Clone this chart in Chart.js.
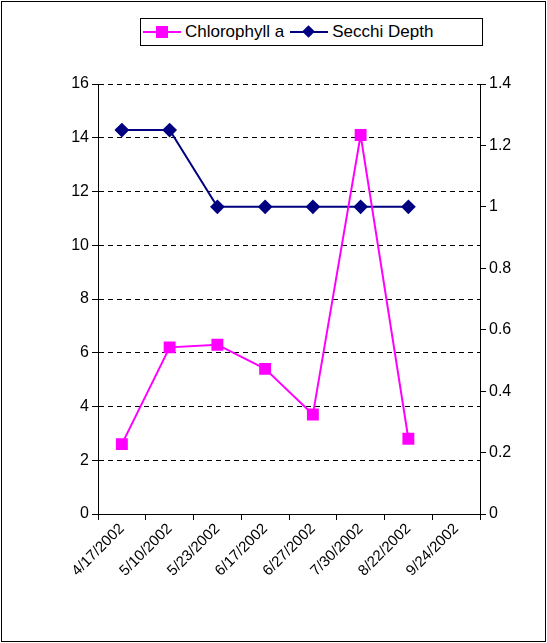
<!DOCTYPE html>
<html>
<head>
<meta charset="utf-8">
<script src="https://cdn.jsdelivr.net/npm/chart.js@4"></script>
<style>
  body { margin: 0; background: #fff; font-family: "Liberation Sans", Arial, sans-serif; }
  #wrap { position: relative; width: 547px; height: 643px; }
  #frame { position: absolute; left: 1px; top: 1px; width: 543px; height: 639px; border: 1px solid #000; pointer-events: none; }
  #legend { position: absolute; left: 140px; top: 18px; width: 341px; height: 26px; border: 1px solid #000; background: #fff;
            display: flex; align-items: center; font-size: 17px; }
  .item { display: flex; align-items: center; margin-left: 2px; margin-right: 4px; }
  .sym { position: relative; width: 38px; height: 14px; margin-right: 4px; }
  .sym .ln { position: absolute; left: 0; right: 0; top: 6px; height: 2px; }
  .sym .sq { position: absolute; left: 13px; top: 1px; width: 12px; height: 12px; background: #ff00ff; }
  .sym .dm { position: absolute; left: 14px; top: 2px; width: 9px; height: 9px; background: #000080; transform: rotate(45deg); }
</style>
</head>
<body>
<div id="wrap">
  <canvas id="c" width="547" height="643"></canvas>
  <div id="frame"></div>
  <div id="legend">
    <div class="item"><div class="sym"><div class="ln" style="background:#ff00ff"></div><div class="sq"></div></div>Chlorophyll a</div>
    <div class="item"><div class="sym"><div class="ln" style="background:#000080"></div><div class="dm"></div></div>Secchi Depth</div>
  </div>
</div>
<script>
// dados
const datas = ['4/17/2002', '5/10/2002', '5/23/2002', '6/17/2002', '6/27/2002', '7/30/2002', '8/22/2002', '9/24/2002'];
const clorofila = [2.6, 6.2, 6.3, 5.4, 3.7, 14.1, 2.8, null];
const secchi = [1.25, 1.25, 1, 1, 1, 1, 1, null];

const fonte = { family: '"Liberation Sans", Arial, sans-serif', size: 16 };

new Chart(document.getElementById('c'), {
  type: 'line',
  data: {
    labels: datas,
    datasets: [
      { label: 'Chlorophyll a', data: clorofila, yAxisID: 'y', borderColor: '#ff00ff', backgroundColor: '#ff00ff',
        borderWidth: 2, pointStyle: 'rect', pointRadius: 7, pointHoverRadius: 7, tension: 0 },
      { label: 'Secchi Depth', data: secchi, yAxisID: 'y1', borderColor: '#000080', backgroundColor: '#000080',
        borderWidth: 2, pointStyle: 'rectRot', pointRadius: 6, pointHoverRadius: 6, tension: 0 },
    ],
  },
  options: {
    responsive: false,
    animation: false,
    layout: { padding: { top: 84, left: 0, right: 0, bottom: 0 } },
    plugins: { legend: { display: false }, tooltip: { enabled: false } },
    scales: {
      x: {
        offset: true,
        grid: { offset: true, drawOnChartArea: false, color: '#000', tickLength: 6 },
        border: { color: '#000' },
        ticks: { color: '#000', font: { ...fonte, size: 15 }, maxRotation: 45, minRotation: 45, autoSkip: false, padding: 0 },
        afterFit: (s) => { s.height = 129; },
      },
      y: {
        position: 'left', min: 0, max: 16,
        grid: { color: '#000', tickLength: 6 },
        border: { color: '#000', dash: [5, 4] },
        ticks: { stepSize: 2, color: '#000', font: fonte },
        afterFit: (s) => { s.width = 98; },
      },
      y1: {
        position: 'right', min: 0, max: 1.4,
        grid: { drawOnChartArea: false, color: '#000', tickLength: 6 },
        border: { color: '#000' },
        ticks: { stepSize: 0.2, color: '#000', font: fonte, callback: (v) => Math.round(v * 10) / 10 },
        afterFit: (s) => { s.width = 67; },
      },
    },
  },
});
</script>
</body>
</html>
